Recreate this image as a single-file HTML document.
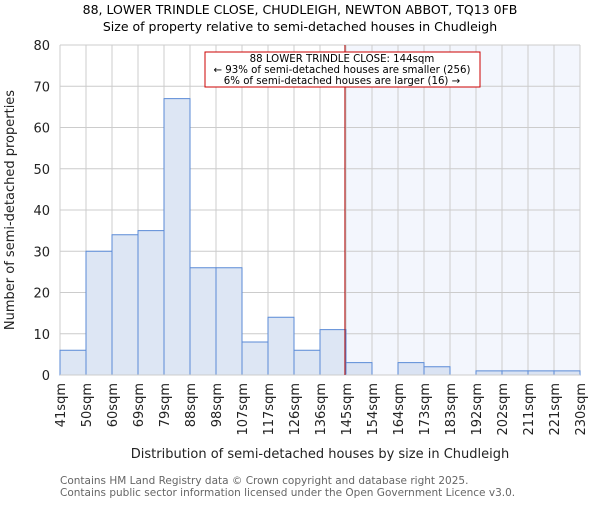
<!DOCTYPE html>
<html><head><meta charset="utf-8"><style>
body{margin:0;background:#fff}
svg{font-family:"DejaVu Sans","Liberation Sans",sans-serif}
</style></head><body>
<svg width="600" height="500" xmlns="http://www.w3.org/2000/svg">
<g id="root"></g>
</svg>
<script>
const categories=["41sqm","50sqm","60sqm","69sqm","79sqm","88sqm","98sqm","107sqm","117sqm","126sqm","136sqm","145sqm","154sqm","164sqm","173sqm","183sqm","192sqm","202sqm","211sqm","221sqm","230sqm"];
const counts=[6,30,34,35,67,26,26,8,14,6,11,3,0,3,2,0,1,1,1,1];
const yTicks=[0,10,20,30,40,50,60,70,80];
const markerBin=10.96;
const L=60,R=580,T=45,B=375,yMax=80;
const n=counts.length,bw=(R-L)/n;
const xs=i=>L+i*bw, ys=v=>B-(B-T)*v/yMax;
const NS="http://www.w3.org/2000/svg",root=document.getElementById('root');
function el(t,a,p){const e=document.createElementNS(NS,t);for(const k in a)e.setAttribute(k,a[k]);(p||root).appendChild(e);return e;}
function txt(s,a){const e=el('text',a);e.textContent=s;return e;}
const mx=xs(markerBin);
let s=el('rect',{x:mx,y:T,width:R-mx,height:B-T,fill:'#f3f6fd'});


yTicks.forEach(v=>{
 let g=el('line',{x1:L,x2:R,y1:ys(v),y2:ys(v),stroke:'#cccccc','stroke-width':1});
 
 
 let t=txt(v,{x:L-10,y:ys(v)+5,'text-anchor':'end','font-size':13,fill:'#222'});
 
 
});
categories.forEach((c,i)=>{
 let g=el('line',{x1:xs(i),x2:xs(i),y1:T,y2:B,stroke:'#cccccc','stroke-width':1});
 
 
 let t=txt(c,{transform:`translate(${xs(i)+5},${B+8}) rotate(-90)`,'text-anchor':'end','font-size':13,fill:'#222'});
 
 
});
counts.forEach((v,i)=>{
 if(v<=0)return;
 let b=el('rect',{x:xs(i),y:ys(v),width:bw,height:B-ys(v),fill:i>=11?'#dae3f3':'#dde6f4',stroke:'#5a8ad6','stroke-width':1});
 
 
});
let ax=el('line',{x1:L,x2:R,y1:B,y2:B,stroke:'#cccccc'});


let ml=el('line',{x1:mx,x2:mx,y1:T,y2:B,stroke:'#b00000','stroke-width':1});


let box=el('rect',{x:205,y:52,width:275,height:35,fill:'#fff',stroke:'#cc0000','stroke-width':1});


[["88 LOWER TRINDLE CLOSE: 144sqm",62],["← 93% of semi-detached houses are smaller (256)",73],["6% of semi-detached houses are larger (16) →",84]].forEach(([s,y])=>{
 let t=txt(s,{x:342,y:y,'text-anchor':'middle','font-size':10.2,fill:'#000'});
 
 
});
let t1=txt("88, LOWER TRINDLE CLOSE, CHUDLEIGH, NEWTON ABBOT, TQ13 0FB",{x:300,y:14,'text-anchor':'middle','font-size':12.5,fill:'#000'});


let t2=txt("Size of property relative to semi-detached houses in Chudleigh",{x:300,y:31,'text-anchor':'middle','font-size':12.5,fill:'#000'});


let yt=txt("Number of semi-detached properties",{transform:'translate(14,210) rotate(-90)','text-anchor':'middle','font-size':13,fill:'#222'});


let xt=txt("Distribution of semi-detached houses by size in Chudleigh",{x:320,y:458,'text-anchor':'middle','font-size':13,fill:'#222'});


[["Contains HM Land Registry data © Crown copyright and database right 2025.",484],["Contains public sector information licensed under the Open Government Licence v3.0.",496]].forEach(([s,y])=>{
 let t=txt(s,{x:60,y:y,'font-size':10.5,fill:'#666'});
 
 
});
</script>
</body></html>
